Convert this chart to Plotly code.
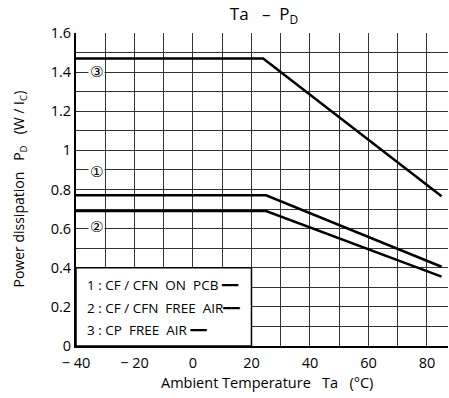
import plotly.graph_objects as go

# Data
ta_pcb = [-40, 25, 85]
pd_pcb = [0.77, 0.77, 0.405]
ta_free = [-40, 25, 85]
pd_free = [0.69, 0.69, 0.355]
ta_cp = [-40, 24, 85]
pd_cp = [1.47, 1.47, 0.765]

x_ticks = [-40, -20, 0, 20, 40, 60, 80]
x_ticklabels = ["\u2212 40", "\u2212 20", "0", "20", "40", "60", "80"]
y_ticks = [0, 0.2, 0.4, 0.6, 0.8, 1.0, 1.2, 1.4, 1.6]
y_ticklabels = ["0", "0.2", "0.4", "0.6", "0.8", "1", "1.2", "1.4", "1.6"]

curve_labels = ["\u2462", "\u2460", "\u2461"]
curve_label_x = [-33, -33, -33]
curve_label_y = [1.40, 0.89, 0.61]

NB = "&nbsp;"
legend_lines = ["1 : CF / CFN" + NB * 2 + "ON" + NB * 2 + "PCB " + "\u2501\u2501",
                "2 : CF / CFN" + NB * 2 + "FREE" + NB * 2 + "AIR" + "\u2501\u2501",
                "3 : CP" + NB * 2 + "FREE" + NB * 2 + "AIR " + "\u2501\u2501"]
legend_y = [0.31, 0.192, 0.08]

FONT = "Open Sans, Noto Sans, DejaVu Sans, sans-serif"

W, H = 449, 398
ML, MR, MT, MB = 75.5, 1, 32.5, 51.5

fig = go.Figure()
for xs, ys in [(ta_pcb, pd_pcb), (ta_free, pd_free), (ta_cp, pd_cp)]:
    fig.add_trace(go.Scatter(x=xs, y=ys, mode="lines",
                             line=dict(color="black", width=2.5),
                             showlegend=False, hoverinfo="skip"))

# legend box covering grid
fig.add_shape(type="rect", x0=-40, x1=20, y0=0, y1=0.4, xref="x", yref="y",
              fillcolor="white", line=dict(color="black", width=1.5), layer="above")

for t, y in zip(legend_lines, legend_y):
    fig.add_annotation(x=-37, y=y, xref="x", yref="y", text=t, showarrow=False,
                       xanchor="left", yanchor="middle",
                       font=dict(size=13.5, color="black", family=FONT))

for t, x, y in zip(curve_labels, curve_label_x, curve_label_y):
    fig.add_annotation(x=x, y=y, xref="x", yref="y", text=t, showarrow=False,
                       font=dict(size=15, color="black", family="DejaVu Sans, Noto Sans CJK JP"),
                       bgcolor="white")

# axis titles
fig.add_annotation(x=(267 - ML) / (W - ML - MR), y=0, xref="paper", yref="paper",
                   yanchor="middle", yshift=-(383 - 346.5), showarrow=False,
                   text="Ambient Temperature" + NB * 3 + "Ta" + NB * 3 + "(\u00b0C)",
                   font=dict(size=14.5, color="black", family=FONT))
fig.add_annotation(x=0, y=(346.5 - 189) / (346.5 - 32.5), xref="paper", yref="paper",
                   xanchor="center", yanchor="middle", xshift=-(ML - 19), textangle=-90,
                   showarrow=False,
                   text="Power dissipation" + NB * 3 + "P<sub>D</sub>" + NB * 3
                        + "(W / I<sub>C</sub>)",
                   font=dict(size=14, color="black", family=FONT))

fig.update_layout(
    width=W, height=H,
    margin=dict(l=ML, r=MR, t=MT, b=MB, autoexpand=False),
    paper_bgcolor="white", plot_bgcolor="white",
    font=dict(family=FONT, color="black", size=13),
    title=dict(text="Ta" + NB * 3 + "\u2013" + NB * 2 + "P<sub>D</sub>",
               x=264 / W, xanchor="center",
               y=1 - 14 / H, yanchor="middle", font=dict(size=17, family=FONT)),
    xaxis=dict(range=[-40, 87.2], tickvals=x_ticks, ticktext=x_ticklabels,
               showgrid=True, gridcolor="#333", gridwidth=1,
               minor=dict(dtick=10, tick0=-40, showgrid=True, gridcolor="#333", gridwidth=1),
               showline=True, linecolor="black", linewidth=2, ticks="",
               ticklabelstandoff=3,
               zeroline=False, tickfont=dict(size=14.5), automargin=False),
    yaxis=dict(range=[0, 1.6], tickvals=y_ticks, ticktext=y_ticklabels,
               showgrid=True, gridcolor="#333", gridwidth=1,
               minor=dict(dtick=0.1, tick0=0, showgrid=True, gridcolor="#333", gridwidth=1),
               showline=True, linecolor="black", linewidth=2, ticks="",
               zeroline=False, tickfont=dict(size=14.5), automargin=False),
)

fig.write_html("out.html", config={"displayModeBar": False},
               post_script="document.body.style.margin='0';document.body.style.overflow='hidden';")
